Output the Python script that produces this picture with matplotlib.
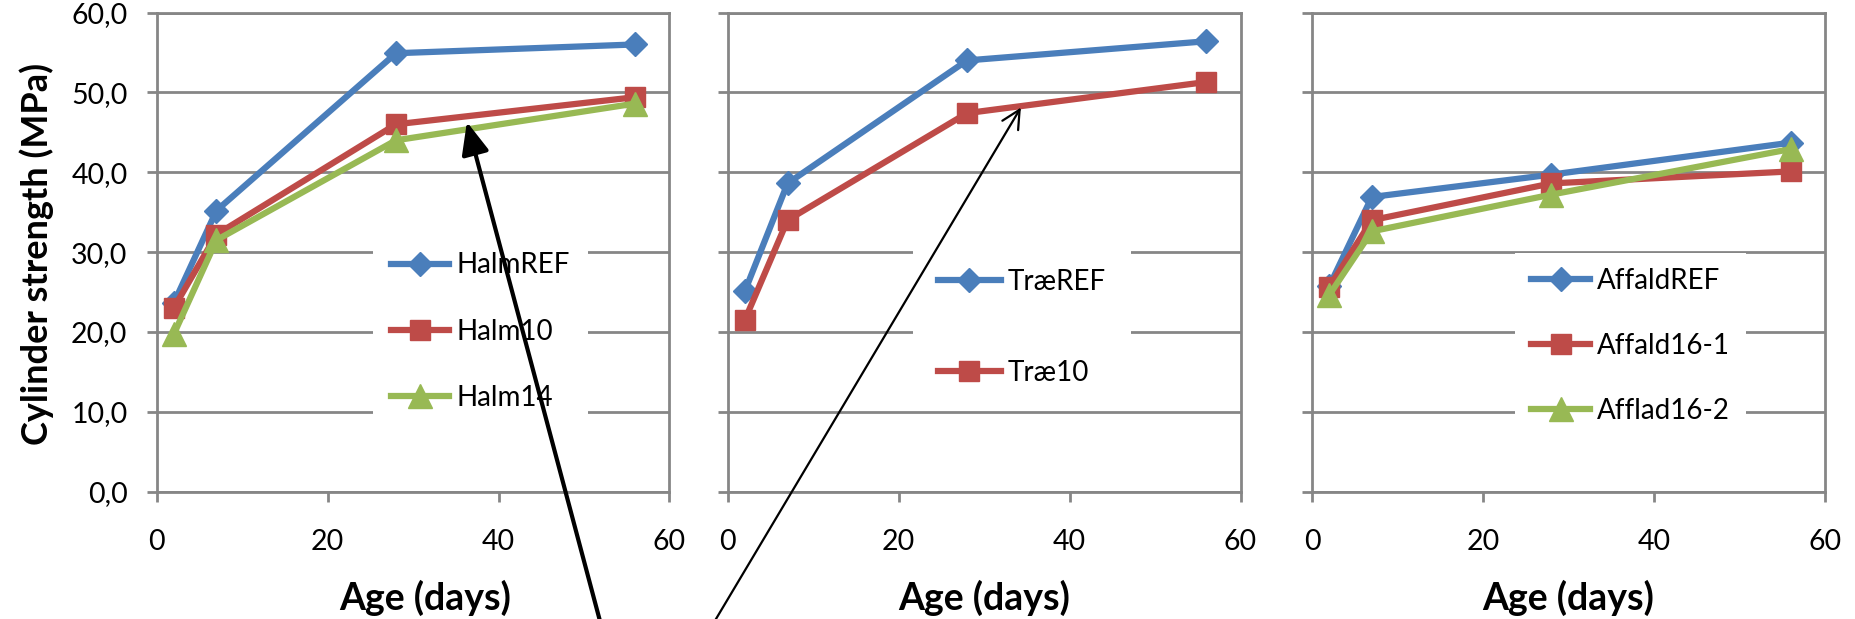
import matplotlib
matplotlib.use('Agg')
import matplotlib.pyplot as plt

plt.rcParams['font.family'] = ['Lato', 'DejaVu Sans']

# test ages (days)
age = [2, 7, 28, 56]

# Halm
halm_ref = [23.6, 35.2, 54.9, 56.0]
halm10 = [23.0, 32.2, 46.0, 49.4]
halm14 = [19.7, 31.5, 44.0, 48.6]

# Træ
trae_ref = [25.1, 38.6, 54.0, 56.4]
trae10 = [21.5, 34.0, 47.4, 51.3]

# Affald
affald_ref = [25.7, 36.9, 39.7, 43.7]
affald16_1 = [25.6, 34.0, 38.6, 40.1]
afflad16_2 = [24.6, 32.6, 37.2, 42.9]

x_ticks = [0, 20, 40, 60]
y_ticks = [0, 10, 20, 30, 40, 50, 60]
y_tick_labels = ['0,0', '10,0', '20,0', '30,0', '40,0', '50,0', '60,0']

blue = '#4A7EBB'
red = '#BE4B48'
green = '#98B954'
grey = '#868686'

panels = [
    [('HalmREF', halm_ref, blue, 'D', 12), ('Halm10', halm10, red, 's', 14), ('Halm14', halm14, green, '^', 17)],
    [('TræREF', trae_ref, blue, 'D', 12), ('Træ10', trae10, red, 's', 14)],
    [('AffaldREF', affald_ref, blue, 'D', 12), ('Affald16-1', affald16_1, red, 's', 14), ('Afflad16-2', afflad16_2, green, '^', 17)],
]

# legend placement (data coords) and spacing per panel
leg_opts = [
    dict(anchor=(25.3, 20.05), borderpad=0.65, labelspacing=1.45, handlelength=2.1),
    dict(anchor=(21.7, 20.55), borderpad=0.9, labelspacing=2.35, handlelength=2.25),
    dict(anchor=(23.8, 18.25), borderpad=0.55, labelspacing=1.4, handlelength=2.15),
]
xlabel_x = [0.523, 0.5, 0.5]

fig = plt.figure(figsize=(18.56, 6.19), dpi=100)
lefts = [0.0844, 0.3921, 0.7069]
axes = []
for i, left in enumerate(lefts):
    ax = fig.add_axes([left, 0.2057, 0.2763, 0.7741])
    axes.append(ax)
    for lab, vals, col, mk, ms in panels[i]:
        ax.plot(age, vals, color=col, lw=4.5, marker=mk, ms=ms, mec=col, mfc=col,
                label=lab, clip_on=False, zorder=3)

    ax.set_xlim(0, 60)
    ax.set_ylim(0, 60)
    ax.set_xticks(x_ticks)
    ax.set_yticks(y_ticks)
    ax.set_yticklabels(y_tick_labels)
    ax.set_axisbelow(True)
    ax.yaxis.grid(True, color=grey, lw=2)
    for sp in ax.spines.values():
        sp.set_color(grey)
        sp.set_linewidth(2)
    ax.tick_params(axis='both', direction='out', length=7, width=2, color=grey,
                   labelsize=20.5, labelcolor='black')
    ax.tick_params(axis='y', pad=14)
    ax.tick_params(axis='x', pad=20)
    if i > 0:
        ax.tick_params(axis='y', labelleft=False)

    ax.set_xlabel('Age (days)', fontsize=27, fontweight='bold')
    ax.xaxis.set_label_coords(xlabel_x[i], -0.221)
    ax.xaxis.label.set_va('center')

    o = leg_opts[i]
    ax.legend(loc='center left', bbox_to_anchor=o['anchor'], bbox_transform=ax.transData,
              borderaxespad=0, borderpad=o['borderpad'], labelspacing=o['labelspacing'],
              handlelength=o['handlelength'], handletextpad=0.25, fontsize=20,
              frameon=True, fancybox=False, edgecolor='none', facecolor='white',
              framealpha=1)

axes[0].set_ylabel('Cylinder strength (MPa)', fontsize=26, fontweight='bold')
axes[0].yaxis.set_label_coords(-0.233, 0.496)
axes[0].yaxis.label.set_va('center')

# pointer arrows
axes[0].annotate('', xy=(36.3, 46.3), xytext=(0.326, -0.034), textcoords='figure fraction',
                 arrowprops=dict(arrowstyle='-|>,head_length=1.4,head_width=0.6',
                                 mutation_scale=14, lw=3, color='black',
                                 shrinkA=0, shrinkB=0),
                 annotation_clip=False, zorder=10)
axes[1].annotate('', xy=(34.3, 48.1), xytext=(0.379, -0.034), textcoords='figure fraction',
                 arrowprops=dict(arrowstyle='->,head_length=0.6,head_width=0.3',
                                 mutation_scale=22, lw=1.6, color='black',
                                 shrinkA=0, shrinkB=0),
                 annotation_clip=False, zorder=10)

plt.savefig('out.png', dpi=100)
